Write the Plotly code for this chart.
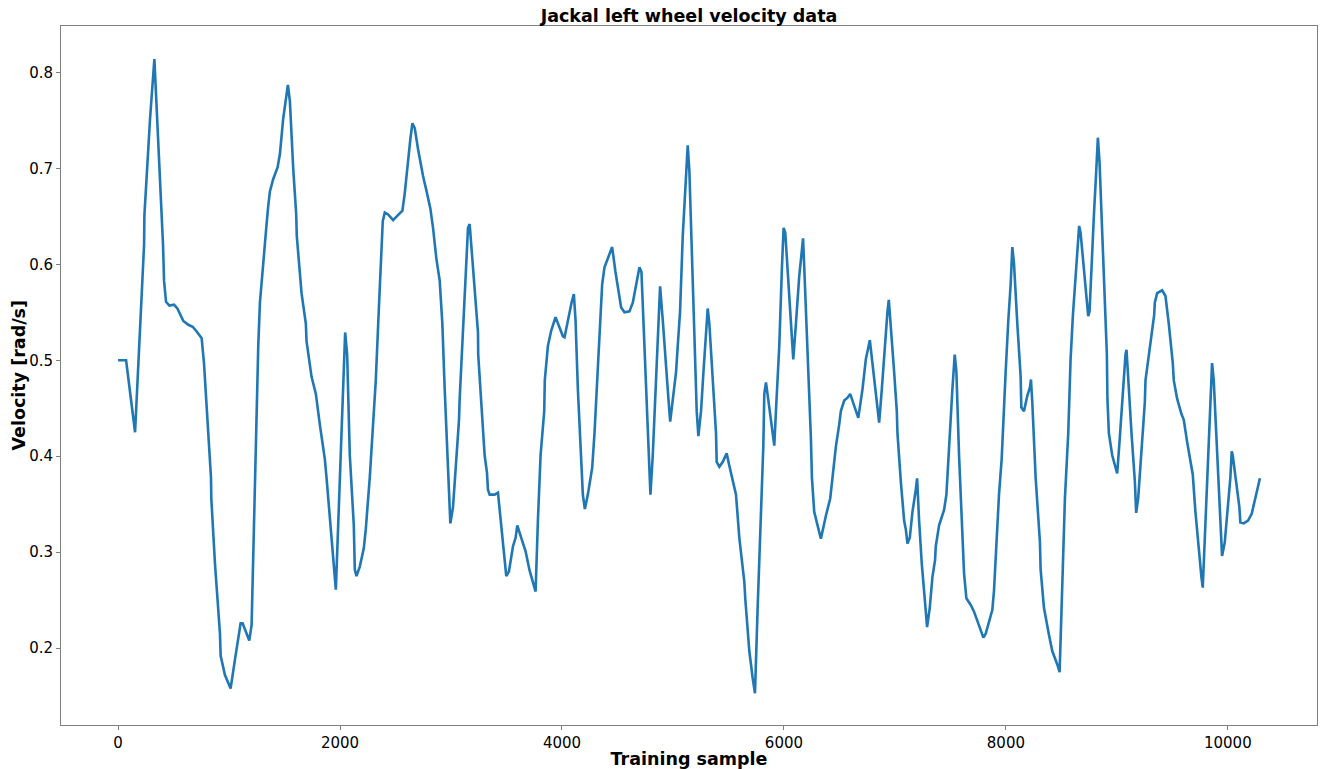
import plotly.graph_objects as go

samples = [0, 72, 153, 213, 234, 237, 288, 327, 348, 378, 405, 414, 432, 462, 504, 534, 573, 588, 633, 672, 708, 753, 774, 813, 837, 840, 873, 918, 924, 963, 1014, 1053, 1092, 1104, 1122, 1182, 1203, 1233, 1263, 1278, 1308, 1338, 1353, 1368, 1398, 1437, 1458, 1488, 1530, 1548, 1578, 1605, 1610, 1653,
           1692, 1698, 1743, 1782, 1818, 1863, 1878, 1923, 1947, 1962, 1992, 2022, 2037, 2046, 2064, 2088, 2124, 2133, 2148, 2178, 2214, 2232, 2268, 2298, 2322, 2352, 2380, 2385, 2403, 2433, 2478, 2523, 2562, 2583, 2613, 2634, 2652, 2673, 2703, 2724, 2748, 2784, 2814, 2838, 2868, 2898, 2922, 2943, 2964, 2982, 2994,
           3018, 3048, 3072, 3078, 3108, 3138, 3153, 3168, 3192, 3222, 3243, 3245, 3273, 3303, 3324, 3333, 3348, 3393, 3423, 3453, 3483, 3498, 3522, 3558, 3582, 3597, 3633, 3672, 3708, 3738, 3762, 3783, 3807, 3840, 3845, 3873, 3903, 3942, 3978, 4008, 4023, 4053, 4086, 4107, 4122, 4143, 4173, 4188, 4206, 4233,
           4272, 4293, 4323, 4353, 4362, 4383, 4422, 4452, 4482, 4518, 4533, 4563, 4608, 4638, 4668, 4698, 4716, 4734, 4758, 4782, 4797, 4818, 4848, 4869, 4884, 4908, 4938, 4959, 4975, 4998, 5028, 5043, 5064, 5088, 5112, 5133, 5148, 5172, 5193, 5214, 5229, 5253, 5277, 5298, 5313, 5328, 5352, 5373, 5388, 5394,
           5418, 5448, 5484, 5508, 5538, 5568, 5598, 5643, 5652, 5688, 5718, 5739, 5763, 5793, 5814, 5823, 5838, 5868, 5898, 5913, 5928, 5958, 5982, 5997, 6012, 6042, 6072, 6084, 6108, 6138, 6162, 6172, 6183, 6213, 6243, 6252, 6273, 6303, 6333, 6378, 6417, 6438, 6468, 6498, 6513, 6543, 6573, 6597, 6618, 6648,
           6670, 6708, 6738, 6774, 6798, 6828, 6858, 6882, 6912, 6933, 6945, 6963, 6993, 7017, 7023, 7053, 7083, 7098, 7113, 7134, 7158, 7188, 7200, 7218, 7242, 7272, 7290, 7314, 7338, 7362, 7368, 7398, 7443, 7464, 7488, 7518, 7539, 7554, 7578, 7608, 7623, 7644, 7683, 7713, 7743, 7773, 7797, 7818, 7848, 7878,
           7893, 7914, 7938, 7962, 7968, 7998, 8022, 8043, 8058, 8073, 8103, 8133, 8139, 8163, 8193, 8217, 8226, 8238, 8268, 8307, 8313, 8343, 8388, 8418, 8463, 8484, 8502, 8532, 8562, 8568, 8583, 8604, 8628, 8646, 8660, 8673, 8703, 8724, 8742, 8754, 8772, 8793, 8814, 8829, 8844, 8868, 8898, 8910, 8915, 8928,
           8958, 8988, 9003, 9024, 9054, 9078, 9087, 9102, 9132, 9162, 9174, 9192, 9222, 9252, 9258, 9288, 9318, 9336, 9342, 9363, 9408, 9438, 9468, 9504, 9513, 9543, 9582, 9603, 9633, 9672, 9684, 9708, 9738, 9762, 9774, 9792, 9822, 9843, 9858, 9873, 9903, 9933, 9948, 9972, 10002, 10023, 10035, 10044, 10074,
           10104, 10113, 10143, 10182, 10215, 10245, 10265, 10289]

velocity = [0.500, 0.500, 0.425, 0.560, 0.620, 0.651, 0.752, 0.814, 0.765, 0.697, 0.620, 0.583, 0.561, 0.557, 0.558, 0.554, 0.544, 0.541, 0.537, 0.535, 0.530, 0.523, 0.497, 0.415, 0.378, 0.356, 0.288, 0.215, 0.192, 0.172, 0.158, 0.188, 0.215, 0.226, 0.226, 0.208, 0.224, 0.378, 0.515, 0.560, 0.606, 0.642, 0.661, 0.676, 0.689, 0.701, 0.715, 0.752, 0.787, 0.770, 0.700, 0.652, 0.630, 0.570,
            0.538, 0.520, 0.483, 0.465, 0.433, 0.397, 0.378, 0.310, 0.278, 0.261, 0.356, 0.460, 0.515, 0.529, 0.506, 0.401, 0.328, 0.282, 0.275, 0.285, 0.304, 0.324, 0.378, 0.433, 0.479, 0.560, 0.620, 0.645, 0.654, 0.652, 0.646, 0.651, 0.656, 0.674, 0.711, 0.731, 0.747, 0.742, 0.720, 0.706, 0.692, 0.674, 0.658, 0.638, 0.606, 0.583, 0.538, 0.470, 0.410, 0.365, 0.330,
            0.347, 0.397, 0.438, 0.460, 0.538, 0.606, 0.638, 0.642, 0.606, 0.556, 0.529, 0.506, 0.451, 0.401, 0.383, 0.365, 0.360, 0.360, 0.362, 0.328, 0.292, 0.275, 0.280, 0.306, 0.315, 0.328, 0.315, 0.301, 0.281, 0.268, 0.259, 0.333, 0.401, 0.447, 0.479, 0.515, 0.531, 0.545, 0.533, 0.525, 0.524, 0.542, 0.560, 0.569, 0.542, 0.470, 0.401, 0.360, 0.345, 0.360,
            0.388, 0.424, 0.492, 0.551, 0.579, 0.597, 0.610, 0.618, 0.592, 0.565, 0.555, 0.550, 0.551, 0.560, 0.579, 0.597, 0.592, 0.538, 0.470, 0.401, 0.360, 0.401, 0.488, 0.551, 0.577, 0.542, 0.488, 0.460, 0.436, 0.456, 0.488, 0.515, 0.551, 0.629, 0.688, 0.724, 0.697, 0.606, 0.515, 0.447, 0.421, 0.447, 0.492, 0.524, 0.554, 0.538, 0.488, 0.447, 0.424, 0.394,
            0.389, 0.394, 0.403, 0.390, 0.374, 0.360, 0.315, 0.269, 0.251, 0.197, 0.169, 0.153, 0.242, 0.333, 0.410, 0.465, 0.477, 0.451, 0.424, 0.411, 0.447, 0.515, 0.597, 0.638, 0.633, 0.579, 0.529, 0.501, 0.538, 0.588, 0.615, 0.627, 0.597, 0.515, 0.419, 0.378, 0.342, 0.328, 0.314, 0.338, 0.356, 0.378, 0.410, 0.433, 0.447, 0.458, 0.461, 0.465, 0.458, 0.447,
            0.440, 0.470, 0.501, 0.521, 0.497, 0.465, 0.435, 0.470, 0.524, 0.551, 0.563, 0.538, 0.488, 0.447, 0.424, 0.374, 0.333, 0.324, 0.309, 0.315, 0.342, 0.365, 0.377, 0.333, 0.288, 0.247, 0.222, 0.242, 0.274, 0.292, 0.306, 0.328, 0.344, 0.360, 0.415, 0.470, 0.506, 0.488, 0.401, 0.315, 0.278, 0.252, 0.245, 0.238, 0.228, 0.217, 0.211, 0.215, 0.228, 0.240,
            0.260, 0.310, 0.360, 0.397, 0.415, 0.488, 0.542, 0.579, 0.618, 0.601, 0.538, 0.483, 0.451, 0.447, 0.463, 0.472, 0.480, 0.456, 0.378, 0.310, 0.282, 0.242, 0.214, 0.197, 0.183, 0.175, 0.242, 0.356, 0.424, 0.456, 0.501, 0.547, 0.583, 0.611, 0.640, 0.633, 0.592, 0.565, 0.546, 0.551, 0.606, 0.651, 0.697, 0.732, 0.706, 0.629, 0.538, 0.506, 0.460, 0.424,
            0.401, 0.388, 0.382, 0.415, 0.470, 0.506, 0.511, 0.478, 0.424, 0.374, 0.341, 0.356, 0.401, 0.456, 0.479, 0.506, 0.533, 0.547, 0.560, 0.570, 0.573, 0.567, 0.538, 0.497, 0.479, 0.460, 0.444, 0.438, 0.415, 0.392, 0.381, 0.342, 0.301, 0.274, 0.263, 0.310, 0.401, 0.447, 0.497, 0.479, 0.401, 0.338, 0.296, 0.310, 0.351, 0.378, 0.405, 0.401, 0.374,
            0.347, 0.331, 0.330, 0.333, 0.340, 0.355, 0.365, 0.377]

x_ticks = [0, 2000, 4000, 6000, 8000, 10000]
y_ticks = [0.2, 0.3, 0.4, 0.5, 0.6, 0.7, 0.8]

font_family = "DejaVu Sans"
label_font = dict(family=font_family, size=17.5, color="black", weight="bold")

fig = go.Figure()
fig.add_trace(go.Scatter(x=samples, y=velocity, mode="lines",
                         line=dict(color="#1f77b4", width=2.6), showlegend=False))

axis_common = dict(showline=True, linecolor="#7f7f7f", linewidth=1, mirror=True,
                   showgrid=False, zeroline=False, ticks="outside", ticklen=4,
                   tickcolor="#7f7f7f", automargin=False,
                   tickfont=dict(family=font_family, size=15, color="black"))

fig.update_xaxes(range=[-514.5, 10803.5], tickvals=x_ticks,
                 ticktext=[str(v) for v in x_ticks],
                 title=dict(text="Training sample", standoff=6, font=label_font),
                 **axis_common)
fig.update_yaxes(range=[0.1199, 0.8484], tickvals=y_ticks,
                 ticktext=[f"{v:.1f}" for v in y_ticks],
                 **axis_common)

fig.add_annotation(text="Velocity [rad/s]", textangle=-90, showarrow=False,
                   xref="paper", yref="paper", x=(18 - 61) / 1256, y=0.5,
                   xanchor="center", yanchor="middle", font=label_font)

fig.update_layout(
    width=1327, height=769,
    margin=dict(l=61, r=10, t=26, b=44, autoexpand=False),
    plot_bgcolor="white", paper_bgcolor="white",
    title=dict(text="Jackal left wheel velocity data", x=0.5, xref="paper", automargin=False,
               y=1 - 16 / 769, yref="container", yanchor="middle",
               font=label_font),
)

fig.write_html("out.html", config={"displayModeBar": False},
               post_script="document.body.style.margin='0';")
